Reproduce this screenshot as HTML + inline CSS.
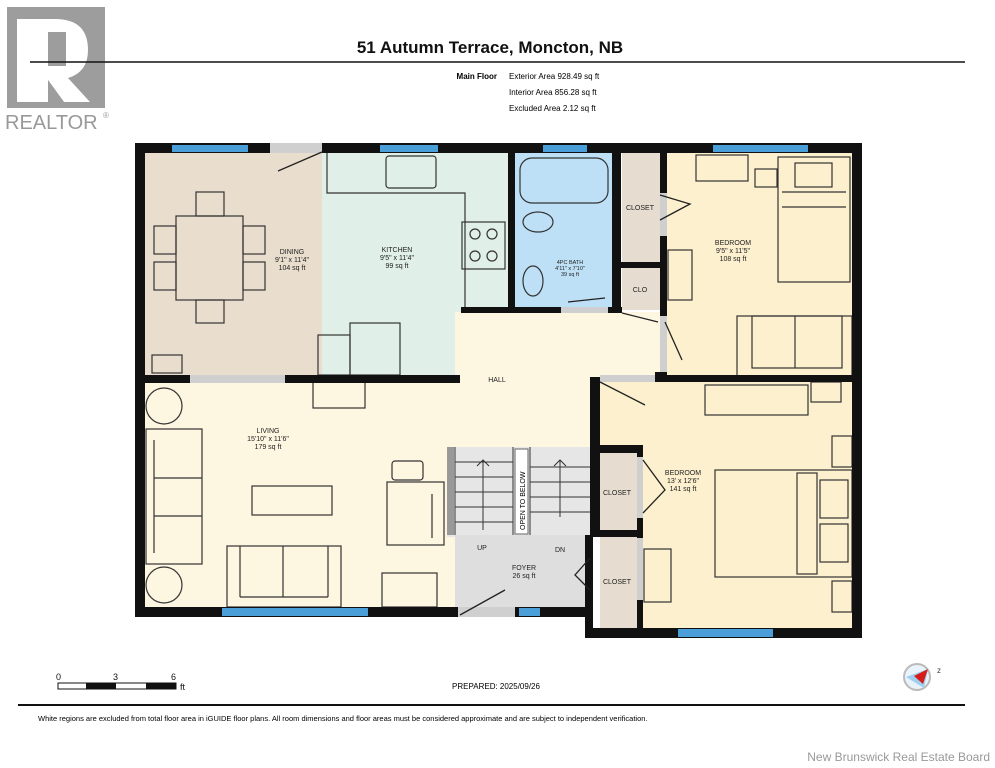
<!DOCTYPE html>
<html><head><meta charset="utf-8"><style>
html,body{margin:0;padding:0;background:#fff;}
svg{display:block;font-family:"Liberation Sans",Arial,sans-serif;}
</style></head><body>
<svg width="995" height="768" viewBox="0 0 995 768" xmlns="http://www.w3.org/2000/svg">
<!-- logo -->
<rect x="7" y="7" width="98" height="101" fill="#9d9d9d"/>
<path d="M17 19 H55 Q88 19 88 50 Q88 72 68 78 L90 102 H64 L48 80 V102 H17 Z" fill="#fff"/>
<rect x="48" y="32" width="18" height="34" fill="#9d9d9d"/>
<path d="M48 80 L64 102 H48 Z" fill="#9d9d9d"/>
<text x="5" y="129" font-size="20" fill="#999">REALTOR</text><text x="103" y="118" font-size="8" fill="#999">®</text>
<!-- title -->
<text x="490" y="53" font-size="17" font-weight="bold" text-anchor="middle" fill="#111">51 Autumn Terrace, Moncton, NB</text>
<line x1="30" y1="62" x2="965" y2="62" stroke="#111" stroke-width="1.5"/>
<text x="497" y="79" font-size="8" font-weight="bold" text-anchor="end">Main Floor</text>
<text x="509" y="79" font-size="8">Exterior Area 928.49 sq ft</text>
<text x="509" y="95" font-size="8">Interior Area 856.28 sq ft</text>
<text x="509" y="111" font-size="8">Excluded Area 2.12 sq ft</text>

<!-- floors -->
<rect x="145" y="153" width="177" height="222" fill="#e9dece"/>
<rect x="322" y="153" width="140" height="222" fill="#e0efe7"/>
<rect x="462" y="153" width="46" height="155" fill="#e0efe7"/>
<rect x="513" y="153" width="99" height="155" fill="#bde0f6"/>
<rect x="622" y="153" width="38" height="112" fill="#e6ddd0"/>
<rect x="622" y="268" width="38" height="42" fill="#e6ddd0"/>
<rect x="145" y="380" width="310" height="228" fill="#fdf6e1"/>
<rect x="455" y="312" width="205" height="140" fill="#fdf6e1"/>
<rect x="667" y="153" width="186" height="223" fill="#fdf0cf"/>
<rect x="600" y="380" width="253" height="248" fill="#fdf0cf"/>
<rect x="600" y="453" width="37" height="78" fill="#e6ddd0"/>
<rect x="600" y="537" width="37" height="91" fill="#e6ddd0"/>
<rect x="447" y="447" width="145" height="90" fill="#e6e6e6"/>
<rect x="455" y="535" width="135" height="73" fill="#dedede"/>

<!-- stairs -->
<g stroke="#333" stroke-width="1" fill="none">
<line x1="455" y1="447" x2="455" y2="535"/>
<line x1="513" y1="447" x2="513" y2="535"/>
<line x1="530" y1="447" x2="530" y2="535"/>
<line x1="455" y1="462" x2="513" y2="462"/><line x1="455" y1="477" x2="513" y2="477"/><line x1="455" y1="492" x2="513" y2="492"/><line x1="455" y1="507" x2="513" y2="507"/><line x1="455" y1="522" x2="513" y2="522"/>
<line x1="530" y1="467" x2="590" y2="467"/><line x1="530" y1="482" x2="590" y2="482"/><line x1="530" y1="497" x2="590" y2="497"/><line x1="530" y1="512" x2="590" y2="512"/>
<line x1="483" y1="530" x2="483" y2="460"/><path d="M477 466 L483 460 L489 466"/>
<line x1="560" y1="517" x2="560" y2="460"/><path d="M554 466 L560 460 L566 466"/>
</g>
<rect x="447" y="447" width="7" height="88" fill="#999"/>
<rect x="515" y="449" width="13" height="85" fill="#fff" stroke="#666"/>
<text transform="translate(525,530) rotate(-90)" font-size="7">OPEN TO BELOW</text>

<!-- furniture -->
<g stroke="#333" stroke-width="1.2" fill="none">
<rect x="176" y="216" width="67" height="84"/>
<rect x="196" y="192" width="28" height="24"/><rect x="196" y="300" width="28" height="23"/>
<rect x="154" y="226" width="22" height="28"/><rect x="154" y="262" width="22" height="28"/>
<rect x="243" y="226" width="22" height="28"/><rect x="243" y="262" width="22" height="28"/>
<rect x="152" y="355" width="30" height="18"/>
<path d="M327 153 V193 H465 V307"/>
<rect x="386" y="156" width="50" height="32" rx="3"/>
<rect x="462" y="222" width="43" height="47"/>
<circle cx="475" cy="234" r="5"/><circle cx="492" cy="234" r="5"/><circle cx="475" cy="256" r="5"/><circle cx="492" cy="256" r="5"/>
<rect x="318" y="335" width="32" height="40"/><rect x="350" y="323" width="50" height="52"/>
<rect x="520" y="158" width="88" height="45" rx="12"/>
<ellipse cx="538" cy="222" rx="15" ry="10"/><ellipse cx="533" cy="281" rx="10" ry="15"/>
<rect x="696" y="155" width="52" height="26"/><rect x="755" y="169" width="22" height="18"/>
<rect x="778" y="157" width="72" height="125"/><rect x="795" y="163" width="37" height="24"/><line x1="782" y1="192" x2="846" y2="192"/><line x1="782" y1="207" x2="846" y2="207"/>
<rect x="668" y="250" width="24" height="50"/>
<rect x="737" y="316" width="115" height="60"/><rect x="752" y="316" width="90" height="52"/><line x1="795" y1="316" x2="795" y2="368"/>
<circle cx="164" cy="406" r="18"/><circle cx="164" cy="585" r="18"/>
<rect x="146" y="429" width="56" height="135"/><line x1="154" y1="440" x2="154" y2="553"/><line x1="154" y1="478" x2="202" y2="478"/><line x1="154" y1="516" x2="202" y2="516"/>
<rect x="313" y="382" width="52" height="26"/>
<rect x="252" y="486" width="80" height="29"/>
<rect x="227" y="546" width="114" height="61"/><line x1="240" y1="546" x2="240" y2="597"/><line x1="328" y1="546" x2="328" y2="597"/><line x1="240" y1="597" x2="328" y2="597"/><line x1="283" y1="546" x2="283" y2="597"/>
<rect x="392" y="461" width="31" height="19" rx="3"/><rect x="387" y="482" width="57" height="63"/><line x1="432" y1="494" x2="432" y2="538"/>
<rect x="382" y="573" width="55" height="34"/>
<rect x="705" y="385" width="103" height="30"/><rect x="811" y="382" width="30" height="20"/>
<rect x="832" y="436" width="20" height="31"/><rect x="832" y="581" width="20" height="31"/>
<rect x="715" y="470" width="137" height="107"/><rect x="797" y="473" width="20" height="101"/><rect x="820" y="480" width="28" height="38"/><rect x="820" y="524" width="28" height="38"/>
<rect x="644" y="549" width="27" height="53"/>
</g>

<!-- walls -->
<g fill="#111">
<rect x="135" y="143" width="727" height="10"/>
<rect x="135" y="143" width="10" height="474"/>
<rect x="852" y="143" width="10" height="495"/>
<rect x="135" y="607" width="320" height="10"/>
<rect x="455" y="607" width="135" height="10"/>
<rect x="585" y="628" width="277" height="10"/>
<rect x="585" y="535" width="8" height="103"/>
<rect x="590" y="377" width="10" height="160"/>
<rect x="145" y="375" width="315" height="8"/>
<rect x="508" y="153" width="7" height="160"/>
<rect x="461" y="307" width="100" height="6"/>
<rect x="612" y="153" width="9" height="160"/>
<rect x="615" y="262" width="52" height="6"/>
<rect x="660" y="153" width="7" height="40"/>
<rect x="660" y="236" width="7" height="80"/>
<rect x="608" y="307" width="14" height="6"/>
<rect x="600" y="375" width="262" height="7"/>
<rect x="655" y="372" width="12" height="8"/>
<rect x="596" y="445" width="47" height="8"/>
<rect x="637" y="445" width="6" height="12"/><rect x="637" y="518" width="6" height="20"/>
<rect x="596" y="530" width="47" height="7"/>
<rect x="637" y="600" width="6" height="30"/>
</g>
<!-- openings gray -->
<g fill="#cfcfcf">
<rect x="270" y="143" width="52" height="10"/>
<rect x="190" y="375" width="95" height="8"/>
<rect x="561" y="307" width="47" height="6"/>
<rect x="660" y="193" width="7" height="43"/>
<rect x="660" y="316" width="7" height="56"/>
<rect x="600" y="375" width="55" height="7"/>
<rect x="637" y="457" width="6" height="61"/>
<rect x="637" y="538" width="6" height="62"/>
<rect x="458" y="607" width="57" height="10"/>
</g>
<!-- windows -->
<g fill="#4a9fd8">
<rect x="172" y="145" width="76" height="7"/><rect x="380" y="145" width="58" height="7"/><rect x="543" y="145" width="44" height="7"/><rect x="713" y="145" width="95" height="7"/>
<rect x="222" y="608" width="146" height="8"/><rect x="519" y="608" width="21" height="8"/><rect x="678" y="629" width="95" height="8"/>
</g>
<!-- doors -->
<g stroke="#222" stroke-width="1.3" fill="none">
<path d="M322 152 L278 171"/>
<path d="M660 195 L690 204 L660 220"/>
<path d="M643 460 L665 490 L643 513"/>
<path d="M590 558 L575 575 L590 590"/>
<path d="M460 615 L505 590"/>
<path d="M605 298 L568 302"/>
<path d="M600 382 L645 405"/>
<path d="M665 322 L682 360"/>
<path d="M622 313 L658 322"/>
</g>
<!-- labels -->
<g font-size="7" text-anchor="middle" fill="#222">
<text x="292" y="254">DINING</text><text x="292" y="262">9'1" x 11'4"</text><text x="292" y="270">104 sq ft</text>
<text x="397" y="252">KITCHEN</text><text x="397" y="260">9'5" x 11'4"</text><text x="397" y="268">99 sq ft</text>
<text x="570" y="264" font-size="5.5">4PC BATH</text><text x="570" y="270" font-size="5.5">4'11" x 7'10"</text><text x="570" y="276" font-size="5.5">39 sq ft</text>
<text x="640" y="210">CLOSET</text><text x="640" y="292">CLO</text>
<text x="733" y="245">BEDROOM</text><text x="733" y="253">9'5" x 11'5"</text><text x="733" y="261">108 sq ft</text>
<text x="497" y="382">HALL</text>
<text x="268" y="433">LIVING</text><text x="268" y="441">15'10" x 11'6"</text><text x="268" y="449">179 sq ft</text>
<text x="683" y="475">BEDROOM</text><text x="683" y="483">13' x 12'6"</text><text x="683" y="491">141 sq ft</text>
<text x="617" y="495">CLOSET</text><text x="617" y="584">CLOSET</text>
<text x="482" y="550">UP</text><text x="560" y="552">DN</text>
<text x="524" y="570">FOYER</text><text x="524" y="578">26 sq ft</text>
</g>
<!-- bottom -->
<g font-size="9" fill="#111">
<text x="56" y="680">0</text><text x="113" y="680">3</text><text x="171" y="680">6</text><text x="180" y="690">ft</text>
</g>
<rect x="58" y="683" width="118" height="6" fill="#fff" stroke="#111" stroke-width="1"/>
<rect x="86" y="683" width="30" height="6" fill="#111"/><rect x="146" y="683" width="30" height="6" fill="#111"/>
<text x="496" y="689" font-size="8" text-anchor="middle">PREPARED: 2025/09/26</text>
<circle cx="917" cy="677" r="13" fill="#e8f3fb" stroke="#bbb" stroke-width="2"/>
<path d="M906 677 L928 669 L924 688 Z" fill="#9fd0f0"/><path d="M914 676 L928 669 L923 684 Z" fill="#d71c1c"/>
<text x="937" y="673" font-size="8" fill="#444">z</text>
<line x1="18" y1="705" x2="965" y2="705" stroke="#111" stroke-width="2"/>
<text x="38" y="721" font-size="7.5">White regions are excluded from total floor area in iGUIDE floor plans. All room dimensions and floor areas must be considered approximate and are subject to independent verification.</text>
<text x="990" y="761" font-size="12" text-anchor="end" fill="#999">New Brunswick Real Estate Board</text>
</svg>
</body></html>
